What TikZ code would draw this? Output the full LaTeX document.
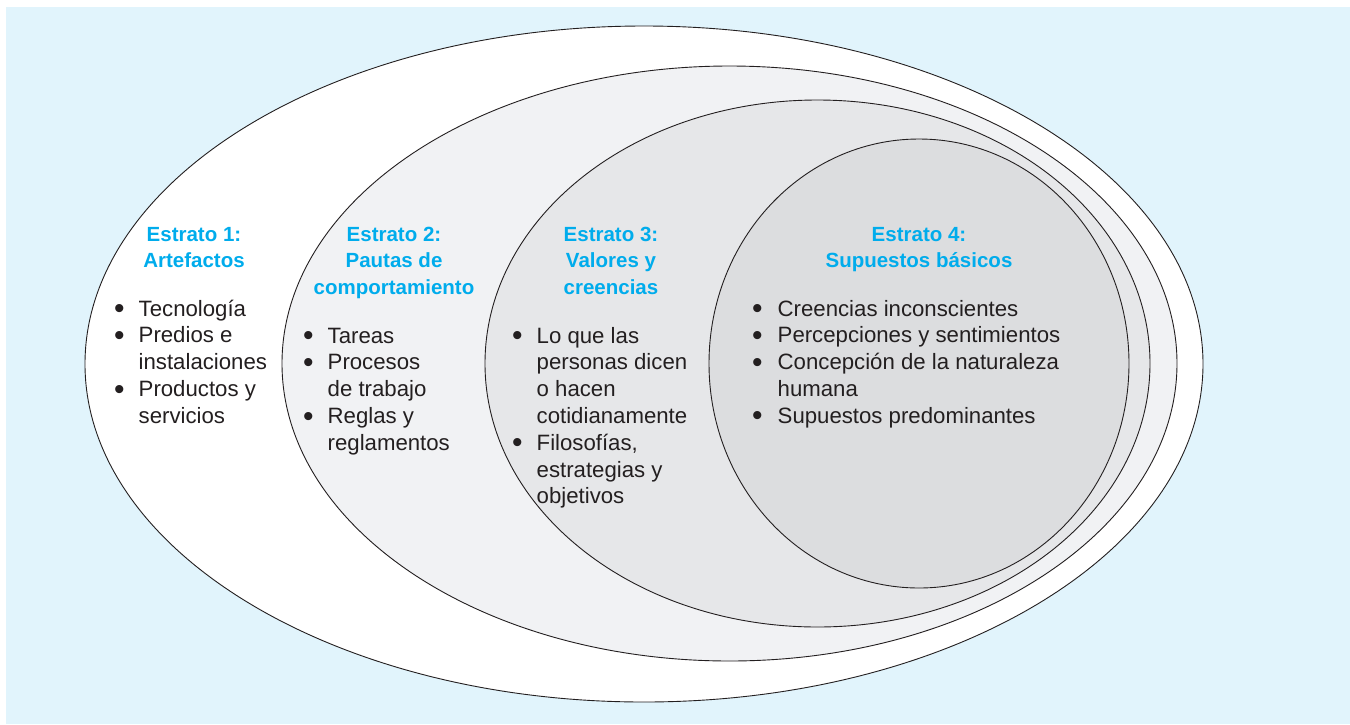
\documentclass[tikz,border=0pt]{standalone}
\usepackage{fontspec}
\setmainfont{Liberation Sans}
\usetikzlibrary{positioning}
\definecolor{sky}{RGB}{225,244,252}
\definecolor{titlecyan}{RGB}{0,172,236}
\definecolor{ink}{RGB}{35,31,32}
\definecolor{grayA}{RGB}{241,242,244}
\definecolor{grayB}{RGB}{230,231,233}
\definecolor{grayC}{RGB}{220,221,223}
\newcommand{\Bul}{\raisebox{-0.12em}{\scalebox{1.35}{\textbullet}}}

\begin{document}
\begin{tikzpicture}[x=1pt,y=-1pt,
  layer/.style={draw=ink,line width=0.9pt},
  title/.style={anchor=base,inner sep=0pt,text=titlecyan,font=\fontsize{20.5}{26.5}\selectfont\bfseries},
  items/.style={anchor=base west,inner sep=0pt,text=ink,font=\fontsize{22.2}{26.8}\selectfont}]
\useasboundingbox (0,0) rectangle (1350,724);
\fill[sky] (6,7) rectangle (1350,724);
% strata, outer to inner
\draw[layer,fill=white] (644,364) ellipse [x radius=559,y radius=338];
\draw[layer,fill=grayA] (729.5,363.5) ellipse [x radius=447.5,y radius=297.5];
\draw[layer,fill=grayB] (817.5,363.5) ellipse [x radius=332.5,y radius=263.5];
\draw[layer,fill=grayC] (919,363.5) ellipse [x radius=210,y radius=224.5];
% titles
\node[title] (t1) at (194,241) {\begin{tabular}[t]{@{}c@{}}Estrato 1:\\Artefactos\end{tabular}};
\node[title] (t2) at (394,241) {\begin{tabular}[t]{@{}c@{}}Estrato 2:\\Pautas de\\comportamiento\end{tabular}};
\node[title] (t3) at (611,241) {\begin{tabular}[t]{@{}c@{}}Estrato 3:\\Valores y\\creencias\end{tabular}};
\node[title] (t4) at (919,241) {\begin{tabular}[t]{@{}c@{}}Estrato 4:\\Supuestos básicos\end{tabular}};
% lists
\node[items] (l1) at (114,316) {\begin{tabular}[t]{@{}l@{\hspace{14pt}}l@{}}
  \Bul & Tecnología\\ \Bul & Predios e\\ & instalaciones\\ \Bul & Productos y\\ & servicios\end{tabular}};
\node[items] (l2) at (303,343) {\begin{tabular}[t]{@{}l@{\hspace{14pt}}l@{}}
  \Bul & Tareas\\ \Bul & Procesos\\ & de trabajo\\ \Bul & Reglas y\\ & reglamentos\end{tabular}};
\node[items] (l3) at (512,343) {\begin{tabular}[t]{@{}l@{\hspace{14pt}}l@{}}
  \Bul & Lo que las\\ & personas dicen\\ & o hacen\\ & cotidianamente\\ \Bul & Filosofías,\\ & estrategias y\\ & objetivos\end{tabular}};
\node[items] (l4) at (752,316) {\begin{tabular}[t]{@{}l@{\hspace{15pt}}l@{}}
  \Bul & Creencias inconscientes\\ \Bul & Percepciones y sentimientos\\ \Bul & Concepción de la naturaleza\\ & humana\\ \Bul & Supuestos predominantes\end{tabular}};
\end{tikzpicture}
\end{document}
